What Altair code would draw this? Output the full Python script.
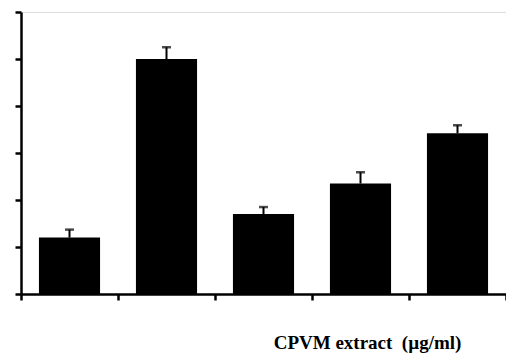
import altair as alt
import pandas as pd

groups = ["G1", "G2", "G3", "G4", "G5"]
means = [1.2, 5.0, 1.7, 2.35, 3.42]
errors = [0.17, 0.25, 0.15, 0.24, 0.17]

df = pd.DataFrame({"group": groups, "mean": means, "err": errors})
df["idx"] = range(len(groups))
df["x0"] = df["idx"] + 0.185
df["x1"] = df["idx"] + 0.815
df["xc"] = df["idx"] + 0.5
df["top"] = df["mean"] + df["err"]

xscale = alt.Scale(domain=[0, 5], nice=False, zero=False)
yscale = alt.Scale(domain=[0, 6], nice=False)

xaxis = alt.Axis(values=[0, 1, 2, 3, 4, 5], labels=False, grid=False, domainColor="black",
                 domainWidth=2.5, tickColor="black", tickWidth=2.5, tickSize=6,
                 title="CPVM extract\u00a0 (µg/ml)", titleFont="Liberation Serif",
                 titleFontWeight="bold", titleFontSize=19, titleColor="black",
                 titleX=346, titleY=54, titleAnchor="middle", titleBaseline="alphabetic")
yaxis = alt.Axis(values=[0, 1, 2, 3, 4, 5, 6], labels=False, grid=False, domainColor="black",
                 domainWidth=2.5, tickColor="black", tickWidth=2.5, tickSize=6, title=None)

base = alt.Chart(df)

bars = base.mark_bar(color="black").encode(
    x=alt.X("x0:Q", scale=xscale, axis=xaxis),
    x2="x1:Q",
    y=alt.Y("mean:Q", scale=yscale, axis=yaxis),
    y2=alt.datum(0),
)

whisk = base.mark_rule(color="black", strokeWidth=2).encode(
    x="xc:Q", y="mean:Q", y2="top:Q"
)

caps = base.mark_tick(color="black", orient="horizontal", size=9, thickness=2.5).encode(
    x="xc:Q", y="top:Q"
)

chart = alt.layer(bars, whisk, caps).properties(
    width=485, height=282,
    autosize=alt.AutoSizeParams(type="none"),
    padding={"left": 13, "top": 4, "right": 0, "bottom": 60},
).configure_view(stroke=None).configure(background="white")

chart.save("out.html", embed_options={"renderer": "svg", "actions": False})
